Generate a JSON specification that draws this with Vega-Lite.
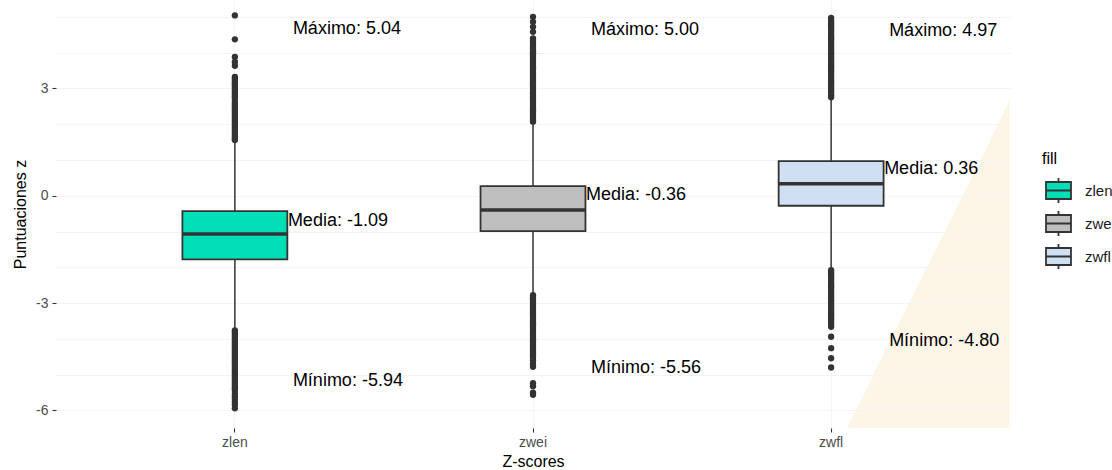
{
  "$schema": "https://vega.github.io/schema/vega-lite/v6.json",
  "width": 954,
  "height": 428,
  "autosize": {"type": "none"},
  "padding": {"left": 56, "top": 0, "right": 102, "bottom": 42},
  "background": "#ffffff",
  "config": {
    "font": "Liberation Sans",
    "view": {
      "stroke": null,
      "fill": {
        "gradient": "linear",
        "x1": 0.7314, "y1": 0.9782, "x2": 0.9266, "y2": 1.0218,
        "stops": [
          {"offset": 0, "color": "#ffffff"},
          {"offset": 0.5, "color": "#ffffff"},
          {"offset": 0.5, "color": "#fdf5e6"},
          {"offset": 1, "color": "#fdf5e6"}
        ]
      }
    },
    "axis": {
      "domain": false,
      "grid": true,
      "gridColor": "#f4f4f4",
      "gridWidth": 1,
      "tickColor": "#333333",
      "tickSize": 4,
      "tickWidth": 1.1,
      "labelColor": "#4d4d4d",
      "labelFontSize": 14,
      "labelFont": "Liberation Sans",
      "titleFont": "Liberation Sans",
      "titleFontSize": 16,
      "titleFontWeight": "normal",
      "titleColor": "#000000"
    },
    "axisY": {
      "title": "Puntuaciones z",
      "values": [-6, -4.5, -3, -1.5, 0, 1.5, 3, 4.5],
      "labelExpr": "datum.value % 3 == 0 ? '' + datum.value : ''",
      "tickOpacity": {"condition": {"test": "datum.value % 3 != 0", "value": 0}, "value": 1},
      "labelPadding": 4,
      "titlePadding": 7
    }
  },
  "datasets": {
    "stats": [
      {"g": "zlen", "lo": -3.72, "q1": -1.78, "med": -1.07, "q3": -0.43, "hi": 1.53, "mean": -1.09, "max": 5.04, "min": -5.94},
      {"g": "zwei", "lo": -2.74, "q1": -0.99, "med": -0.40, "q3": 0.27, "hi": 2.04, "mean": -0.36, "max": 5.00, "min": -5.56},
      {"g": "zwfl", "lo": -2.04, "q1": -0.28, "med": 0.335, "q3": 0.97, "hi": 2.72, "mean": 0.36, "max": 4.97, "min": -4.80}
    ],
    "outliers": [
      {"g": "zlen", "v": 5.04}, {"g": "zlen", "v": 4.37}, {"g": "zlen", "v": 3.88}, {"g": "zlen", "v": 3.74}, {"g": "zlen", "v": 3.63},
      {"g": "zlen", "v": 3.32}, {"g": "zlen", "v": 3.26}, {"g": "zlen", "v": 3.20}, {"g": "zlen", "v": 3.14}, {"g": "zlen", "v": 3.08},
      {"g": "zlen", "v": 3.02}, {"g": "zlen", "v": 2.96}, {"g": "zlen", "v": 2.90}, {"g": "zlen", "v": 2.84}, {"g": "zlen", "v": 2.78},
      {"g": "zlen", "v": 2.72}, {"g": "zlen", "v": 2.62}, {"g": "zlen", "v": 2.56}, {"g": "zlen", "v": 2.50}, {"g": "zlen", "v": 2.44},
      {"g": "zlen", "v": 2.38}, {"g": "zlen", "v": 2.32}, {"g": "zlen", "v": 2.26}, {"g": "zlen", "v": 2.20}, {"g": "zlen", "v": 2.14},
      {"g": "zlen", "v": 2.08}, {"g": "zlen", "v": 2.02}, {"g": "zlen", "v": 1.96}, {"g": "zlen", "v": 1.90}, {"g": "zlen", "v": 1.84},
      {"g": "zlen", "v": 1.78}, {"g": "zlen", "v": 1.72}, {"g": "zlen", "v": 1.66}, {"g": "zlen", "v": 1.60}, {"g": "zlen", "v": 1.56},
      {"g": "zlen", "v": -3.76}, {"g": "zlen", "v": -3.82}, {"g": "zlen", "v": -3.88}, {"g": "zlen", "v": -3.94}, {"g": "zlen", "v": -4.00},
      {"g": "zlen", "v": -4.06}, {"g": "zlen", "v": -4.12}, {"g": "zlen", "v": -4.18}, {"g": "zlen", "v": -4.24}, {"g": "zlen", "v": -4.30},
      {"g": "zlen", "v": -4.36}, {"g": "zlen", "v": -4.42}, {"g": "zlen", "v": -4.48}, {"g": "zlen", "v": -4.54}, {"g": "zlen", "v": -4.60},
      {"g": "zlen", "v": -4.66}, {"g": "zlen", "v": -4.72}, {"g": "zlen", "v": -4.78}, {"g": "zlen", "v": -4.84}, {"g": "zlen", "v": -4.90},
      {"g": "zlen", "v": -4.96}, {"g": "zlen", "v": -5.02}, {"g": "zlen", "v": -5.08}, {"g": "zlen", "v": -5.14}, {"g": "zlen", "v": -5.20},
      {"g": "zlen", "v": -5.26}, {"g": "zlen", "v": -5.32}, {"g": "zlen", "v": -5.38}, {"g": "zlen", "v": -5.43}, {"g": "zlen", "v": -5.53},
      {"g": "zlen", "v": -5.60}, {"g": "zlen", "v": -5.68}, {"g": "zlen", "v": -5.76}, {"g": "zlen", "v": -5.84}, {"g": "zlen", "v": -5.94},
      {"g": "zwei", "v": 5.00}, {"g": "zwei", "v": 4.86}, {"g": "zwei", "v": 4.72}, {"g": "zwei", "v": 4.58}, {"g": "zwei", "v": 4.40},
      {"g": "zwei", "v": 4.34}, {"g": "zwei", "v": 4.28}, {"g": "zwei", "v": 4.22}, {"g": "zwei", "v": 4.16}, {"g": "zwei", "v": 4.10},
      {"g": "zwei", "v": 4.04}, {"g": "zwei", "v": 3.98}, {"g": "zwei", "v": 3.92}, {"g": "zwei", "v": 3.86}, {"g": "zwei", "v": 3.80},
      {"g": "zwei", "v": 3.74}, {"g": "zwei", "v": 3.68}, {"g": "zwei", "v": 3.62}, {"g": "zwei", "v": 3.56}, {"g": "zwei", "v": 3.50},
      {"g": "zwei", "v": 3.44}, {"g": "zwei", "v": 3.38}, {"g": "zwei", "v": 3.32}, {"g": "zwei", "v": 3.26}, {"g": "zwei", "v": 3.20},
      {"g": "zwei", "v": 3.14}, {"g": "zwei", "v": 3.08}, {"g": "zwei", "v": 3.02}, {"g": "zwei", "v": 2.96}, {"g": "zwei", "v": 2.90},
      {"g": "zwei", "v": 2.84}, {"g": "zwei", "v": 2.78}, {"g": "zwei", "v": 2.72}, {"g": "zwei", "v": 2.66}, {"g": "zwei", "v": 2.60},
      {"g": "zwei", "v": 2.54}, {"g": "zwei", "v": 2.48}, {"g": "zwei", "v": 2.42}, {"g": "zwei", "v": 2.36}, {"g": "zwei", "v": 2.30},
      {"g": "zwei", "v": 2.24}, {"g": "zwei", "v": 2.18}, {"g": "zwei", "v": 2.12}, {"g": "zwei", "v": 2.07},
      {"g": "zwei", "v": -2.78}, {"g": "zwei", "v": -2.84}, {"g": "zwei", "v": -2.90}, {"g": "zwei", "v": -2.96}, {"g": "zwei", "v": -3.02},
      {"g": "zwei", "v": -3.08}, {"g": "zwei", "v": -3.14}, {"g": "zwei", "v": -3.20}, {"g": "zwei", "v": -3.26}, {"g": "zwei", "v": -3.32},
      {"g": "zwei", "v": -3.38}, {"g": "zwei", "v": -3.44}, {"g": "zwei", "v": -3.50}, {"g": "zwei", "v": -3.56}, {"g": "zwei", "v": -3.62},
      {"g": "zwei", "v": -3.68}, {"g": "zwei", "v": -3.74}, {"g": "zwei", "v": -3.80}, {"g": "zwei", "v": -3.86}, {"g": "zwei", "v": -3.92},
      {"g": "zwei", "v": -3.98}, {"g": "zwei", "v": -4.04}, {"g": "zwei", "v": -4.10}, {"g": "zwei", "v": -4.16}, {"g": "zwei", "v": -4.22},
      {"g": "zwei", "v": -4.28}, {"g": "zwei", "v": -4.34}, {"g": "zwei", "v": -4.40}, {"g": "zwei", "v": -4.46}, {"g": "zwei", "v": -4.52},
      {"g": "zwei", "v": -4.60}, {"g": "zwei", "v": -4.70}, {"g": "zwei", "v": -4.78}, {"g": "zwei", "v": -5.24}, {"g": "zwei", "v": -5.32},
      {"g": "zwei", "v": -5.50}, {"g": "zwei", "v": -5.56},
      {"g": "zwfl", "v": 4.97}, {"g": "zwfl", "v": 4.91}, {"g": "zwfl", "v": 4.85}, {"g": "zwfl", "v": 4.79}, {"g": "zwfl", "v": 4.73},
      {"g": "zwfl", "v": 4.67}, {"g": "zwfl", "v": 4.61}, {"g": "zwfl", "v": 4.55}, {"g": "zwfl", "v": 4.49}, {"g": "zwfl", "v": 4.43},
      {"g": "zwfl", "v": 4.37}, {"g": "zwfl", "v": 4.31}, {"g": "zwfl", "v": 4.25}, {"g": "zwfl", "v": 4.19}, {"g": "zwfl", "v": 4.13},
      {"g": "zwfl", "v": 4.07}, {"g": "zwfl", "v": 4.01}, {"g": "zwfl", "v": 3.95}, {"g": "zwfl", "v": 3.89}, {"g": "zwfl", "v": 3.83},
      {"g": "zwfl", "v": 3.77}, {"g": "zwfl", "v": 3.71}, {"g": "zwfl", "v": 3.65}, {"g": "zwfl", "v": 3.59}, {"g": "zwfl", "v": 3.53},
      {"g": "zwfl", "v": 3.47}, {"g": "zwfl", "v": 3.41}, {"g": "zwfl", "v": 3.35}, {"g": "zwfl", "v": 3.29}, {"g": "zwfl", "v": 3.23},
      {"g": "zwfl", "v": 3.17}, {"g": "zwfl", "v": 3.11}, {"g": "zwfl", "v": 3.05}, {"g": "zwfl", "v": 2.99}, {"g": "zwfl", "v": 2.93},
      {"g": "zwfl", "v": 2.87}, {"g": "zwfl", "v": 2.81}, {"g": "zwfl", "v": 2.75},
      {"g": "zwfl", "v": -2.08}, {"g": "zwfl", "v": -2.14}, {"g": "zwfl", "v": -2.20}, {"g": "zwfl", "v": -2.26}, {"g": "zwfl", "v": -2.32},
      {"g": "zwfl", "v": -2.38}, {"g": "zwfl", "v": -2.44}, {"g": "zwfl", "v": -2.50}, {"g": "zwfl", "v": -2.56}, {"g": "zwfl", "v": -2.62},
      {"g": "zwfl", "v": -2.68}, {"g": "zwfl", "v": -2.74}, {"g": "zwfl", "v": -2.80}, {"g": "zwfl", "v": -2.86}, {"g": "zwfl", "v": -2.92},
      {"g": "zwfl", "v": -2.98}, {"g": "zwfl", "v": -3.04}, {"g": "zwfl", "v": -3.10}, {"g": "zwfl", "v": -3.16}, {"g": "zwfl", "v": -3.22},
      {"g": "zwfl", "v": -3.28}, {"g": "zwfl", "v": -3.34}, {"g": "zwfl", "v": -3.40}, {"g": "zwfl", "v": -3.46}, {"g": "zwfl", "v": -3.52},
      {"g": "zwfl", "v": -3.58}, {"g": "zwfl", "v": -3.66}, {"g": "zwfl", "v": -3.94}, {"g": "zwfl", "v": -4.26}, {"g": "zwfl", "v": -4.54},
      {"g": "zwfl", "v": -4.80}
    ]
  },
  "encoding": {
    "x": {
      "field": "g",
      "type": "nominal",
      "scale": {"type": "band", "domain": ["zlen", "zwei", "zwfl"], "paddingInner": 0, "paddingOuter": 0.1},
      "axis": {"title": "Z-scores", "labelAngle": 0, "labelPadding": 3, "titlePadding": 4, "bandPosition": 0.5}
    }
  },
  "layer": [
    {
      "data": {"name": "stats"},
      "mark": {"type": "rule", "color": "#333333", "strokeWidth": 1.5},
      "encoding": {
        "y": {
          "field": "lo",
          "type": "quantitative",
          "title": "Puntuaciones z",
          "scale": {"domain": [-6.49, 5.47], "nice": false, "zero": false}
        },
        "y2": {"field": "hi"}
      }
    },
    {
      "data": {"name": "stats"},
      "mark": {"type": "bar", "width": {"band": 0.352}, "stroke": "#333333", "strokeWidth": 1.8, "opacity": 1},
      "encoding": {
        "y": {"field": "q1", "type": "quantitative", "title": "Puntuaciones z"},
        "y2": {"field": "q3"},
        "fill": {
          "field": "g",
          "type": "nominal",
          "scale": {"domain": ["zlen", "zwei", "zwfl"], "range": ["#00dfb6", "#bebebe", "#cfe0f3"]},
          "legend": {
            "title": "fill",
            "orient": "none",
            "legendX": 976,
            "legendY": 141,
            "padding": 10,
            "fillColor": "#ffffff",
            "titleFontSize": 16,
            "titleFontWeight": "normal",
            "titleColor": "#000000",
            "titlePadding": 10,
            "labelFontSize": 15,
            "labelColor": "#1a1a1a",
            "labelOffset": 13,
            "symbolType": "M-1,-0.68H1V0.68H-1Z M-1,0H1 M0,-0.68V-1 M0,0.68V1",
            "symbolSize": 625,
            "symbolStrokeColor": "#333333",
            "symbolStrokeWidth": 1.8,
            "symbolOpacity": 1,
            "symbolOffset": 3,
            "rowPadding": 0
          }
        }
      }
    },
    {
      "data": {"name": "stats"},
      "mark": {"type": "tick", "color": "#333333", "size": 105, "thickness": 3.5, "opacity": 1},
      "encoding": {
        "y": {"field": "med", "type": "quantitative", "title": "Puntuaciones z"}
      }
    },
    {
      "data": {"name": "outliers"},
      "mark": {"type": "point", "filled": true, "size": 40, "color": "#333333", "opacity": 1, "strokeWidth": 0},
      "encoding": {
        "y": {"field": "v", "type": "quantitative", "title": "Puntuaciones z"}
      }
    },
    {
      "data": {"name": "stats"},
      "mark": {"type": "text", "align": "left", "baseline": "middle", "dx": 58, "dy": 13.5, "fontSize": 18, "color": "#000000",
               "text": {"expr": "'Máximo: ' + replace(format(datum.max, '.2f'), '−', '-')"}},
      "encoding": {
        "y": {"field": "max", "type": "quantitative", "title": "Puntuaciones z"}
      }
    },
    {
      "data": {"name": "stats"},
      "mark": {"type": "text", "align": "left", "baseline": "middle", "dx": 53, "dy": -13.5, "fontSize": 18, "color": "#000000",
               "text": {"expr": "'Media: ' + replace(format(datum.mean, '.2f'), '−', '-')"}},
      "encoding": {
        "y": {"field": "mean", "type": "quantitative", "title": "Puntuaciones z"}
      }
    },
    {
      "data": {"name": "stats"},
      "mark": {"type": "text", "align": "left", "baseline": "middle", "dx": 58, "dy": -27, "fontSize": 18, "color": "#000000",
               "text": {"expr": "'Mínimo: ' + replace(format(datum.min, '.2f'), '−', '-')"}},
      "encoding": {
        "y": {"field": "min", "type": "quantitative", "title": "Puntuaciones z"}
      }
    }
  ]
}
